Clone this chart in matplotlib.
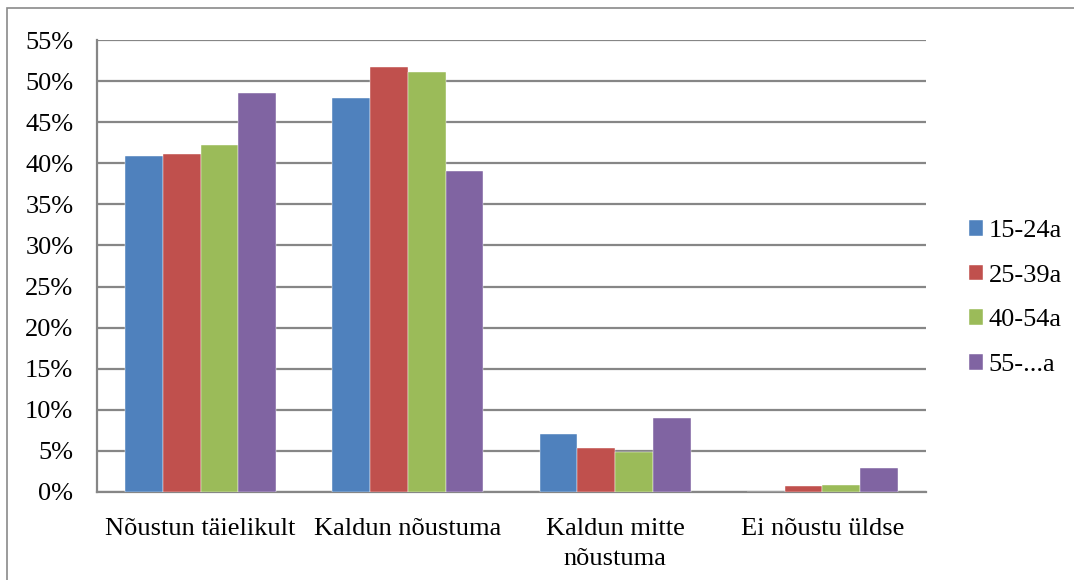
import numpy as np
import matplotlib
matplotlib.use("Agg")
from matplotlib import pyplot as plt
from matplotlib.patches import Rectangle

categories = ["Nõustun täielikult", "Kaldun nõustuma", "Kaldun mitte\nnõustuma", "Ei nõustu üldse"]
series_names = ["15-24a", "25-39a", "40-54a", "55-...a"]
v_15_24 = [40.9, 48.0, 7.1, 0.0]
v_25_39 = [41.1, 51.7, 5.4, 0.7]
v_40_54 = [42.2, 51.1, 4.9, 0.8]
v_55 = [48.5, 39.1, 9.0, 2.9]
colors = ["#4F81BD", "#C0504D", "#9BBB59", "#8064A2"]
yticks = list(range(0, 56, 5))

plt.rcParams['font.family'] = ['Liberation Serif', 'DejaVu Serif']

fig = plt.figure(figsize=(10.74, 5.8), dpi=100)
ax = fig.add_axes([97 / 1074, 1 - 492 / 580, (926 - 97) / 1074, (492 - 40) / 580])

# outer frame around whole chart
fig.patches.append(Rectangle((7 / 1074, -0.05), 1.2, 1.05 - 8 / 580, transform=fig.transFigure,
                             fill=False, edgecolor='#8a8a8a', lw=1.2))

x = np.arange(len(categories))
w = 0.182
all_vals = [v_15_24, v_25_39, v_40_54, v_55]
for i, (vals, name, c) in enumerate(zip(all_vals, series_names, colors)):
    ax.bar(x + (i - 1.5) * w, vals, w, color=c, label=name, zorder=3,
           edgecolor='white', linewidth=0.3)

ax.set_xlim(-0.5, len(categories) - 0.5)
ax.set_ylim(0, 55)
ax.set_yticks(yticks)
ax.set_yticklabels([f"{t}%" for t in yticks], fontsize=19)
ax.set_xticks(x)
ax.set_xticklabels(categories, fontsize=19, linespacing=1.45)
ax.tick_params(axis='both', length=0, colors='black')
ax.tick_params(axis='y', pad=17)
ax.tick_params(axis='x', pad=19)
ax.yaxis.grid(True, color='#868686', lw=1.6, zorder=0)
ax.set_axisbelow(True)
for s in ['top', 'right']:
    ax.spines[s].set_visible(False)
ax.spines['left'].set_color('#868686')
ax.spines['left'].set_linewidth(1.6)
ax.spines['bottom'].set_color('#868686')
ax.spines['bottom'].set_linewidth(1.6)

ax.legend(loc='center left', bbox_to_anchor=(945 / 1074, 1 - 298 / 580),
          bbox_transform=fig.transFigure, frameon=False, fontsize=19,
          handlelength=0.55, handleheight=0.55, handletextpad=0.2, labelspacing=0.85)

fig.savefig("out.png", dpi=100)
